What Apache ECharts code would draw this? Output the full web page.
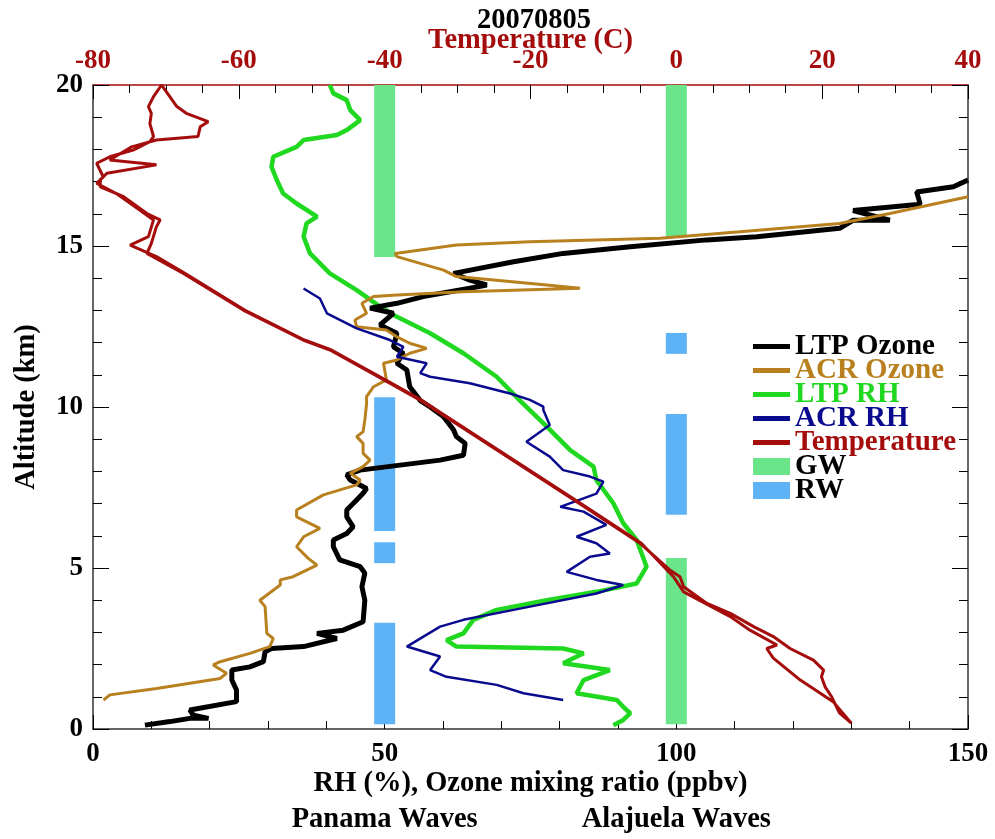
<!DOCTYPE html>
<html>
<head>
<meta charset="utf-8">
<title>20070805</title>
<script src="https://cdn.jsdelivr.net/npm/echarts@6/dist/echarts.min.js"></script>
<style>
  html, body { margin: 0; padding: 0; background: #fff; }
  #chart { width: 995px; height: 839px; }
</style>
</head>
<body>
<div id="chart"></div>
<script>
// every pair is [value, altitude in km]
const ltpOzone = [
  [8.9, 0.12], [13.2, 0.23], [16.6, 0.33], [19.8, 0.33], [17.2, 0.43], [16.6, 0.59],
  [24.6, 0.85], [24.6, 1.21], [23.8, 1.52], [23.8, 1.83], [26.9, 1.93], [29.2, 2.09],
  [29.5, 2.4], [30.6, 2.5], [36.1, 2.56], [41.8, 2.81], [38.4, 2.97], [42.9, 3.07],
  [46.3, 3.33], [46.6, 4.0], [46.1, 4.42], [46.6, 4.84], [45.8, 5.04], [42.3, 5.25],
  [41.2, 5.66], [41.2, 5.87], [43.5, 6.07], [44.6, 6.28], [43.5, 6.59], [43.5, 6.8],
  [45.2, 7.11], [46.3, 7.32], [46.9, 7.47], [44.1, 7.73], [43.5, 7.89], [45.8, 8.04],
  [59.5, 8.35], [63.5, 8.5], [63.8, 8.87], [62.3, 9.08], [61.8, 9.29], [60.1, 9.7],
  [57.8, 10.0], [56.1, 10.2], [54.3, 10.63], [53.8, 11.15], [52.1, 11.36], [53.2, 11.67],
  [51.5, 11.87], [52.1, 12.29], [49.2, 12.55], [51.5, 12.91], [47.5, 13.07], [52.1, 13.22],
  [56.6, 13.43], [64.6, 13.69], [67.5, 13.79], [64.6, 13.94], [61.8, 14.15], [72.1, 14.51],
  [80.6, 14.77], [92.1, 14.98], [105.2, 15.19], [113.8, 15.29], [128, 15.55], [130.3, 15.8],
  [136.6, 15.8], [130.3, 16.1], [141.8, 16.3], [141.2, 16.68], [147.5, 16.84], [150, 17.05]
];

const acrOzone = [
  [1.8, 0.9], [2.9, 1.06], [10.9, 1.26], [21.8, 1.57], [22.9, 1.73], [20.6, 1.99],
  [21.8, 2.09], [26.9, 2.35], [30.3, 2.56], [30.9, 2.81], [29.8, 2.97], [29.5, 3.8],
  [28.6, 4.0], [32.1, 4.47], [32.1, 4.63], [34.3, 4.73], [38.4, 5.09], [36.9, 5.3],
  [34.9, 5.66], [36.1, 5.97], [38.9, 6.23], [34.9, 6.59], [34.9, 6.8], [39.5, 7.27],
  [45.2, 7.58], [45.8, 7.73], [44.1, 7.94], [46.3, 8.15], [47.5, 8.35], [46.3, 8.56],
  [46.3, 8.87], [45.2, 9.08], [46.3, 9.23], [46.6, 9.6], [46.9, 10.1], [46.9, 10.32],
  [48.1, 10.63], [50.3, 10.84], [49.8, 11.36], [52.1, 11.46], [54.3, 11.67], [57.2, 11.82],
  [54.3, 11.98], [52.1, 12.18], [50.3, 12.39], [45.2, 12.49], [44.9, 12.7], [46.9, 12.91],
  [46.1, 13.22], [48.1, 13.43], [52.1, 13.48], [63.5, 13.58], [83.5, 13.69], [77.8, 13.79],
  [62.3, 14.05], [60.1, 14.25], [52.1, 14.67], [51.8, 14.77], [62.3, 15.03], [74.9, 15.13],
  [97.2, 15.24], [110.9, 15.44], [128, 15.7], [136.6, 16.01], [150, 16.53]
];

const ltpRh = [
  [40.6, 20.0], [41.2, 19.74], [43.5, 19.53], [44.1, 19.22], [45.8, 18.91], [43.5, 18.6],
  [41.8, 18.45], [36.1, 18.29], [34.9, 18.08], [30.9, 17.77], [30.6, 17.46], [31.5, 17.05],
  [32.6, 16.63], [34.9, 16.32], [38.4, 15.91], [36.6, 15.7], [36.1, 15.29], [37.2, 14.77],
  [40.6, 14.15], [45.2, 13.63], [49.2, 13.12], [52.1, 12.8], [57.8, 12.29], [63.5, 11.67],
  [69.2, 10.94], [73.2, 10.2], [77.8, 9.39], [81.8, 8.66], [85.8, 8.15], [86.3, 7.73],
  [89.2, 7.01], [90.9, 6.39], [93.2, 5.87], [94.9, 5.04], [93.2, 4.52], [86.3, 4.26],
  [77.8, 4.0], [69.2, 3.7], [65.2, 3.39], [63.5, 2.97], [60.6, 2.76], [62.3, 2.56],
  [80.6, 2.5], [84.1, 2.35], [80.6, 2.04], [88.6, 1.83], [84.1, 1.52], [82.9, 1.11],
  [89.8, 0.9], [90.9, 0.69], [92.1, 0.49], [90.9, 0.28], [89.2, 0.12]
];

const acrRh = [
  [36.1, 13.68], [38.9, 13.37], [40.1, 12.91], [45.2, 12.44], [50.9, 12.08], [53.2, 11.87],
  [52.1, 11.56], [57.2, 11.36], [56.1, 11.05], [57.8, 10.94], [64.6, 10.74], [71.5, 10.42],
  [74.9, 10.22], [77.2, 10.01], [77.2, 9.91], [78.3, 9.44], [74.3, 8.92], [78.3, 8.46],
  [80.6, 8.04], [85.2, 7.84], [87.5, 7.68], [86.3, 7.31], [80.1, 6.9], [84.1, 6.75],
  [88.0, 6.34], [82.9, 5.97], [86.3, 5.77], [88.6, 5.45], [85.2, 5.35], [81.2, 4.88],
  [86.3, 4.63], [90.9, 4.47], [86.3, 4.21], [74.9, 3.8], [63.5, 3.39], [59.5, 3.18],
  [53.8, 2.56], [59.5, 2.25], [57.8, 1.83], [60.6, 1.62], [69.2, 1.37], [73.8, 1.11],
  [80.6, 0.9]
];

// ascent then descent, in deg C
const temperature = [
  [24.0, 0.18], [22.4, 0.49], [21.3, 1.0], [20.4, 1.31], [19.9, 1.62], [20.2, 1.83],
  [18.8, 2.14], [15.6, 2.5], [13.3, 2.87], [10.6, 3.18], [7.4, 3.59], [4.2, 3.9],
  [1.0, 4.42], [0.5, 4.73], [-0.9, 4.94], [-5.0, 5.77], [-13.3, 7.0], [-23.5, 8.5],
  [-35.2, 10.22], [-39.3, 10.74], [-47.5, 11.77], [-51.2, 12.08], [-59.4, 13.01], [-67.6, 14.15],
  [-72.6, 14.77], [-72.0, 15.08], [-71.3, 15.6], [-70.8, 15.81], [-72.6, 16.01], [-75.8, 16.53],
  [-79.0, 16.84], [-79.0, 17.05], [-78.1, 17.26], [-71.3, 17.52], [-77.7, 17.67], [-74.7, 18.08],
  [-71.3, 18.29], [-65.6, 18.4], [-65.3, 18.7], [-64.2, 18.86], [-67.2, 19.12], [-68.5, 19.33],
  [-70.1, 19.84], [-70.6, 20.0],
  [-71.7, 19.64], [-72.4, 19.33], [-72.0, 19.12], [-72.2, 18.8], [-71.7, 18.4], [-72.2, 18.24],
  [-74.5, 17.98], [-77.7, 17.77], [-79.5, 17.57], [-78.6, 17.15], [-79.5, 16.95], [-76.8, 16.63],
  [-73.6, 16.12], [-71.7, 15.81], [-72.4, 15.29], [-74.9, 15.03], [-71.3, 14.67], [-67.4, 14.15],
  [-59.2, 13.01], [-51.0, 12.08], [-47.3, 11.77], [-39.1, 10.74], [-35.0, 10.22], [-23.3, 8.5],
  [-13.1, 7.0], [-4.8, 5.77], [-0.4, 4.73], [1.0, 4.26], [7.4, 3.49], [10.1, 3.07],
  [13.8, 2.61], [12.4, 2.5], [13.3, 2.2], [17.0, 1.52], [21.5, 0.85], [24.0, 0.18]
];

// [site x, bottom km, top km]
const gwBars = [[50, 14.66, 20], [100, 15.28, 20], [100, 0.15, 5.31]];
const rwBars = [[50, 6.15, 10.3], [50, 5.15, 5.8], [50, 0.15, 3.3], [100, 11.65, 12.3], [100, 6.65, 9.78]];

const waveSiteX = [50, 100];
const waveSiteNames = ["Panama Waves", "Alajuela Waves"];

const FONT = "'Liberation Serif', 'DejaVu Serif', serif";
const RED = "#a50d0d";
const barHalf = 1.8;

const chart = echarts.init(document.getElementById("chart"));

function barItem(params, api) {
  const x = api.value(0);
  const p0 = api.coord([x - barHalf, api.value(2)]);
  const p1 = api.coord([x + barHalf, api.value(1)]);
  return {
    type: "rect",
    shape: { x: p0[0], y: p0[1], width: p1[0] - p0[0], height: p1[1] - p0[1] },
    style: { fill: api.visual("color") }
  };
}

function lineSeries(name, data, color, width, z, xAxisIndex) {
  return {
    name: name,
    type: "line",
    xAxisIndex: xAxisIndex || 0,
    data: data,
    symbol: "none",
    showSymbol: false,
    color: color,
    lineStyle: { color: color, width: width },
    z: z,
    silent: true
  };
}

const labelText = { fontFamily: FONT, fontWeight: "bold", fontSize: 27, color: "#000" };
const nameText = { fontFamily: FONT, fontWeight: "bold", fontSize: 28.5, color: "#000" };
const legendText = { fontFamily: FONT, fontWeight: "bold", fontSize: 29 };
const tickLine = { color: "#000", width: 1 };

chart.setOption({
  animation: false,
  backgroundColor: "#fff",
  title: {
    text: "20070805",
    left: 472,
    top: 1,
    textStyle: nameText
  },
  grid: { left: 93, right: 27, top: 85, bottom: 110, containLabel: false, outerBoundsMode: "none" },
  legend: [
    {
      orient: "vertical",
      left: 748,
      top: 327,
      itemWidth: 37,
      itemHeight: 5,
      itemGap: -5,
      icon: "rect",
      selectedMode: false,
      textStyle: legendText,
      data: [
        { name: "LTP Ozone", textStyle: { color: "#000" } },
        { name: "ACR Ozone", textStyle: { color: "#b8801e" } },
        { name: "LTP RH", textStyle: { color: "#1fd81f" } },
        { name: "ACR RH", textStyle: { color: "#0a0a8f" } },
        { name: "Temperature", textStyle: { color: RED } }
      ]
    },
    {
      orient: "vertical",
      left: 748,
      top: 447,
      itemWidth: 37,
      itemHeight: 17,
      itemGap: -5,
      icon: "rect",
      selectedMode: false,
      textStyle: Object.assign({ color: "#000" }, legendText),
      data: ["GW", "RW"]
    }
  ],
  xAxis: [
    {
      type: "value",
      position: "bottom",
      min: 0,
      max: 150,
      interval: 50,
      name: "RH (%), Ozone mixing ratio (ppbv)",
      nameLocation: "middle",
      nameGap: 40,
      nameMoveOverlap: false,
      nameTextStyle: nameText,
      axisLine: { show: true, onZero: false, lineStyle: { color: "#333", width: 1.5 } },
      axisTick: { show: true, inside: true, length: 14, lineStyle: tickLine },
      minorTick: { show: true, splitNumber: 5, length: 8, lineStyle: tickLine },
      splitLine: { show: false },
      axisLabel: Object.assign({ margin: 12, showMinLabel: true, showMaxLabel: true }, labelText)
    },
    {
      type: "value",
      position: "top",
      min: -80,
      max: 40,
      interval: 20,
      name: "Temperature (C)",
      nameLocation: "middle",
      nameGap: 30,
      nameMoveOverlap: false,
      nameTextStyle: Object.assign({}, nameText, { color: RED }),
      axisLine: { show: true, onZero: false, lineStyle: { color: RED, width: 1.5 } },
      axisTick: { show: true, inside: true, length: 14, lineStyle: tickLine },
      minorTick: { show: true, splitNumber: 4, length: 8, lineStyle: tickLine },
      splitLine: { show: false },
      axisLabel: Object.assign({ margin: 10, showMinLabel: true, showMaxLabel: true }, labelText, { color: RED })
    },
    {
      type: "value",
      position: "bottom",
      min: 0,
      max: 150,
      interval: 50,
      axisLine: { show: false, onZero: false },
      axisTick: { show: false },
      splitLine: { show: false },
      axisLabel: Object.assign({
        margin: 76,
        formatter: function (v) {
          const i = waveSiteX.indexOf(v);
          return i >= 0 ? waveSiteNames[i] : "";
        }
      }, nameText)
    }
  ],
  yAxis: [
    {
      type: "value",
      position: "left",
      min: 0,
      max: 20,
      interval: 5,
      name: "Altitude (km)",
      nameLocation: "middle",
      nameGap: 52,
      nameTextStyle: nameText,
      axisLine: { show: true, onZero: false, lineStyle: { color: "#333", width: 1.5 } },
      axisTick: { show: true, inside: true, length: 16, lineStyle: tickLine },
      minorTick: { show: true, splitNumber: 5, length: 9, lineStyle: tickLine },
      splitLine: { show: false },
      axisLabel: Object.assign({ margin: 10, showMinLabel: true, showMaxLabel: true }, labelText)
    },
    {
      type: "value",
      position: "right",
      min: 0,
      max: 20,
      interval: 5,
      axisLine: { show: true, onZero: false, lineStyle: { color: "#333", width: 1.5 } },
      axisTick: { show: true, inside: true, length: 16, lineStyle: tickLine },
      minorTick: { show: true, splitNumber: 5, length: 9, lineStyle: tickLine },
      splitLine: { show: false },
      axisLabel: { show: false }
    }
  ],
  series: [
    {
      name: "GW",
      type: "custom",
      renderItem: barItem,
      data: gwBars,
      encode: { x: 0, y: [1, 2] },
      color: "#6be58a",
      z: 1,
      silent: true
    },
    {
      name: "RW",
      type: "custom",
      renderItem: barItem,
      data: rwBars,
      encode: { x: 0, y: [1, 2] },
      color: "#5eb3f6",
      z: 1,
      silent: true
    },
    lineSeries("LTP RH", ltpRh, "#1fd81f", 4.5, 2),
    lineSeries("LTP Ozone", ltpOzone, "#000000", 5, 3),
    lineSeries("ACR Ozone", acrOzone, "#b8801e", 3, 4),
    lineSeries("ACR RH", acrRh, "#0a0a8f", 2.5, 5),
    lineSeries("Temperature", temperature, RED, 3, 6, 1)
  ]
});

window.addEventListener("resize", chart.resize);
</script>
</body>
</html>
